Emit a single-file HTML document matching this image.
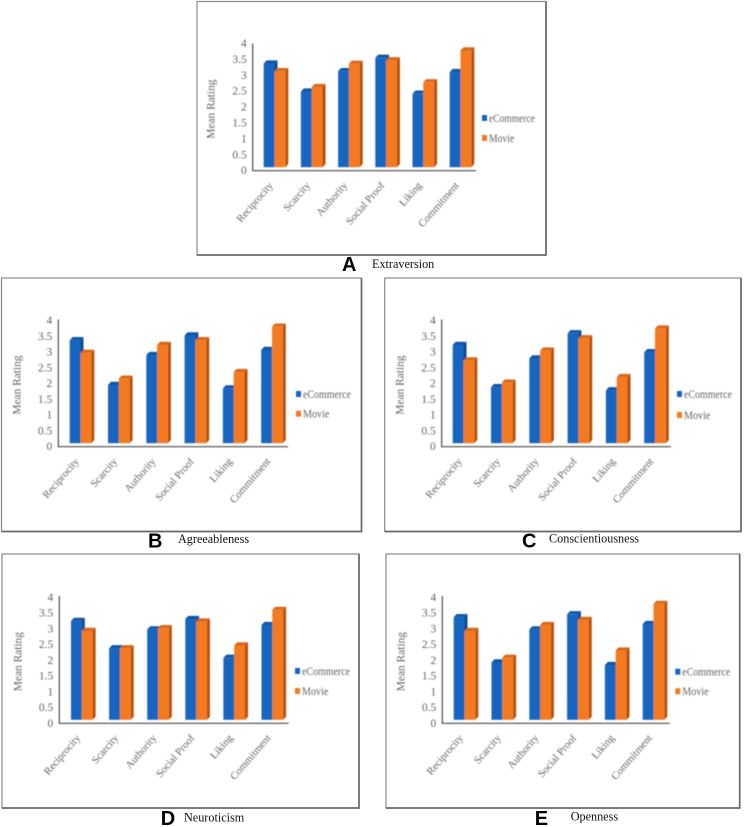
<!DOCTYPE html>
<html lang="en">
<head>
<meta charset="utf-8">
<title>Mean Rating by Personality Trait</title>
<style>
html,body{margin:0;padding:0;background:#fff;}
body{width:744px;height:827px;overflow:hidden;}
svg{display:block;}
text{font-family:"Liberation Serif",serif;}
</style>
</head>
<body>
<svg id="figure" xmlns="http://www.w3.org/2000/svg" width="744" height="827" viewBox="0 0 744 827"></svg>
<script>
const categories = ["Reciprocity", "Scarcity", "Authority", "Social Proof", "Liking", "Commitment"];
const tickLabels = ["0", "0.5", "1", "1.5", "2", "2.5", "3", "3.5", "4"];
const seriesNames = ["eCommerce", "Movie"];

const extraversionECommerce = [3.37, 2.49, 3.13, 3.55, 2.42, 3.10];
const extraversionMovie = [3.13, 2.63, 3.36, 3.47, 2.78, 3.78];
const agreeablenessECommerce = [3.38, 1.96, 2.91, 3.53, 1.85, 3.07];
const agreeablenessMovie = [2.98, 2.16, 3.23, 3.38, 2.37, 3.81];
const conscientiousnessECommerce = [3.23, 1.89, 2.80, 3.60, 1.79, 3.00];
const conscientiousnessMovie = [2.74, 2.03, 3.05, 3.44, 2.21, 3.75];
const neuroticismECommerce = [3.25, 2.38, 2.98, 3.31, 2.08, 3.12];
const neuroticismMovie = [2.93, 2.38, 3.02, 3.23, 2.47, 3.60];
const opennessECommerce = [3.37, 1.93, 2.98, 3.46, 1.85, 3.15];
const opennessMovie = [2.93, 2.08, 3.12, 3.28, 2.31, 3.79];

const panels = [
  {key:"a", letter:"A", title:"Extraversion", e:extraversionECommerce, m:extraversionMovie,
   frame:[197,1.5,546,255], axisX:252.7, y0:170.7, topY:43.5, right:476, first:263.7, step:37.2, unit:31.8,
   legX:482, legY1:118, legY2:138, legW:46, letterX:342, letterY:271, titleX:372, titleY:268},
  {key:"b", letter:"B", title:"Agreeableness", e:agreeablenessECommerce, m:agreeablenessMovie,
   frame:[1.5,278,361.5,531.5], axisX:58.3, y0:446.7, topY:319.5, right:288, first:69.7, step:38.3, unit:31.5,
   legX:296, legY1:394, legY2:413.7, legW:48, letterX:148, letterY:547.7, titleX:178, titleY:543},
  {key:"c", letter:"C", title:"Conscientiousness", e:conscientiousnessECommerce, m:conscientiousnessMovie,
   frame:[384.7,278,741,531.5], axisX:441.7, y0:446.7, topY:319.5, right:671, first:452.7, step:38.3, unit:31.5,
   legX:677, legY1:394, legY2:415, legW:48, letterX:522, letterY:547.7, titleX:549, titleY:542.7},
  {key:"d", letter:"D", title:"Neuroticism", e:neuroticismECommerce, m:neuroticismMovie,
   frame:[2,554,359,808], axisX:59.3, y0:723.3, topY:596, right:288.7, first:71, step:38.1, unit:31.5,
   legX:295, legY1:671, legY2:691, legW:48, letterX:160.7, letterY:825, titleX:184, titleY:821.7},
  {key:"e", letter:"E", title:"Openness", e:opennessECommerce, m:opennessMovie,
   frame:[386,554,739.7,808], axisX:442.3, y0:723.3, topY:596, right:669.7, first:453.7, step:37.8, unit:31.5,
   legX:675.3, legY1:671.7, legY2:691.3, legW:48, letterX:534.7, letterY:825, titleX:570.7, titleY:820.7}
];

const NS = "http://www.w3.org/2000/svg";
const figure = document.getElementById("figure");
const BAR_W = 10.8, SIDE = 3, TOP = 3.2, FOOT = 3.5;
const TEXT_GREY = "#636363";

function make(parent, tag, props, content) {
  const el = document.createElementNS(NS, tag);
  for (const k in props) el.setAttribute(k, props[k]);
  if (content !== undefined) el.textContent = content;
  parent.appendChild(el);
  return el;
}

function drawBar(g, x, yTop, yBottom, face, side, top) {
  make(g, "polygon", {fill: side, points:
    (x+BAR_W)+","+yTop+" "+(x+BAR_W+SIDE)+","+(yTop-TOP)+" "+(x+BAR_W+SIDE)+","+(yBottom-TOP)+" "+(x+BAR_W)+","+yBottom});
  make(g, "polygon", {fill: top, points:
    x+","+yTop+" "+(x+SIDE)+","+(yTop-TOP)+" "+(x+BAR_W+SIDE)+","+(yTop-TOP)+" "+(x+BAR_W)+","+yTop});
  make(g, "rect", {x: x, y: yTop, width: BAR_W, height: yBottom - yTop, fill: face});
}

panels.forEach(function (p) {
  const valueY = function (v) { return p.y0 - v * p.unit; };
  const groupX = function (i) { return p.first + i * p.step; };
  const barBottom = p.y0 - FOOT;

  const g = make(figure, "g", {});
  
  

  const frame = make(g, "rect", {x:p.frame[0], y:p.frame[1], width:p.frame[2]-p.frame[0], height:p.frame[3]-p.frame[1],
    fill:"#fff", stroke:"#8a8a8a", "stroke-width":1.2});
  
  
  make(g, "polyline", {points:p.frame[2]+","+p.frame[1]+" "+p.frame[2]+","+p.frame[3]+" "+p.frame[0]+","+p.frame[3],
    fill:"none", stroke:"#6a6a6a", "stroke-width":1.7});

  const soft = make(g, "g", {filter:"url(#soft)"});

  categories.forEach(function (c, i) {
    const bg = make(soft, "g", {});
    
    
    drawBar(bg, groupX(i), valueY(p.e[i]), barBottom, "#1565c0", "#0d4a8f", "#0f57a6");
    drawBar(bg, groupX(i) + BAR_W, valueY(p.m[i]), barBottom, "#f47a20", "#b5500f", "#d9681a");
  });

  const yAxis = make(soft, "line", {x1:p.axisX, y1:p.topY, x2:p.axisX, y2:p.y0, stroke:"#4a4a4a", "stroke-width":1.2});
  
  
  const xAxis = make(soft, "line", {x1:p.axisX-0.6, y1:p.y0, x2:p.right, y2:p.y0, stroke:"#4a4a4a", "stroke-width":1.2});
  
  

  tickLabels.forEach(function (t) {
    const tick = make(soft, "text", {x:p.axisX-6, y:valueY(parseFloat(t))+3.5, "text-anchor":"end", "font-size":11.5, fill:TEXT_GREY}, t);
    
    
  });

  categories.forEach(function (c, i) {
    const cx = groupX(i) + BAR_W - 1;
    const cy = p.y0 + 15;
    const label = make(soft, "text", {x:cx, y:cy, "text-anchor":"end", "font-size":10.6, fill:TEXT_GREY,
      transform:"rotate(-49 "+cx+" "+cy+")"}, c);
    
    
  });

  const ax = p.axisX - 38;
  const ay = (p.y0 + p.topY) / 2 + 2;
  const yTitle = make(soft, "text", {x:ax, y:ay, "text-anchor":"middle", "font-size":11.4, fill:TEXT_GREY,
    transform:"rotate(-90 "+ax+" "+ay+")"}, "Mean Rating");
  
  

  [[p.legY1, "#1565c0", seriesNames[0], p.legW], [p.legY2, "#f47a20", seriesNames[1], p.legW * 0.55]].forEach(function (row) {
    const entry = make(soft, "g", {});
    
    
    make(entry, "rect", {x:p.legX, y:row[0]-3, width:5, height:6, fill:row[1]});
    make(entry, "text", {x:p.legX+7, y:row[0]+3.8, "font-size":11.5, fill:TEXT_GREY, textLength:row[3], lengthAdjust:"spacingAndGlyphs"}, row[2]);
  });

  const letter = make(g, "text", {x:p.letterX, y:p.letterY, "font-size":20, "font-weight":"bold", fill:"#000",
    style:'font-family:"Liberation Sans",sans-serif'}, p.letter);
  
  

  const title = make(g, "text", {x:p.titleX, y:p.titleY, "font-size":12.2, fill:"#111"}, p.title);
  
  
});

const defs = make(figure, "defs", {});
const soften = make(defs, "filter", {id:"soft", x:"-5%", y:"-5%", width:"110%", height:"110%"});
make(soften, "feGaussianBlur", {stdDeviation:"0.5"});
</script>
</body>
</html>
